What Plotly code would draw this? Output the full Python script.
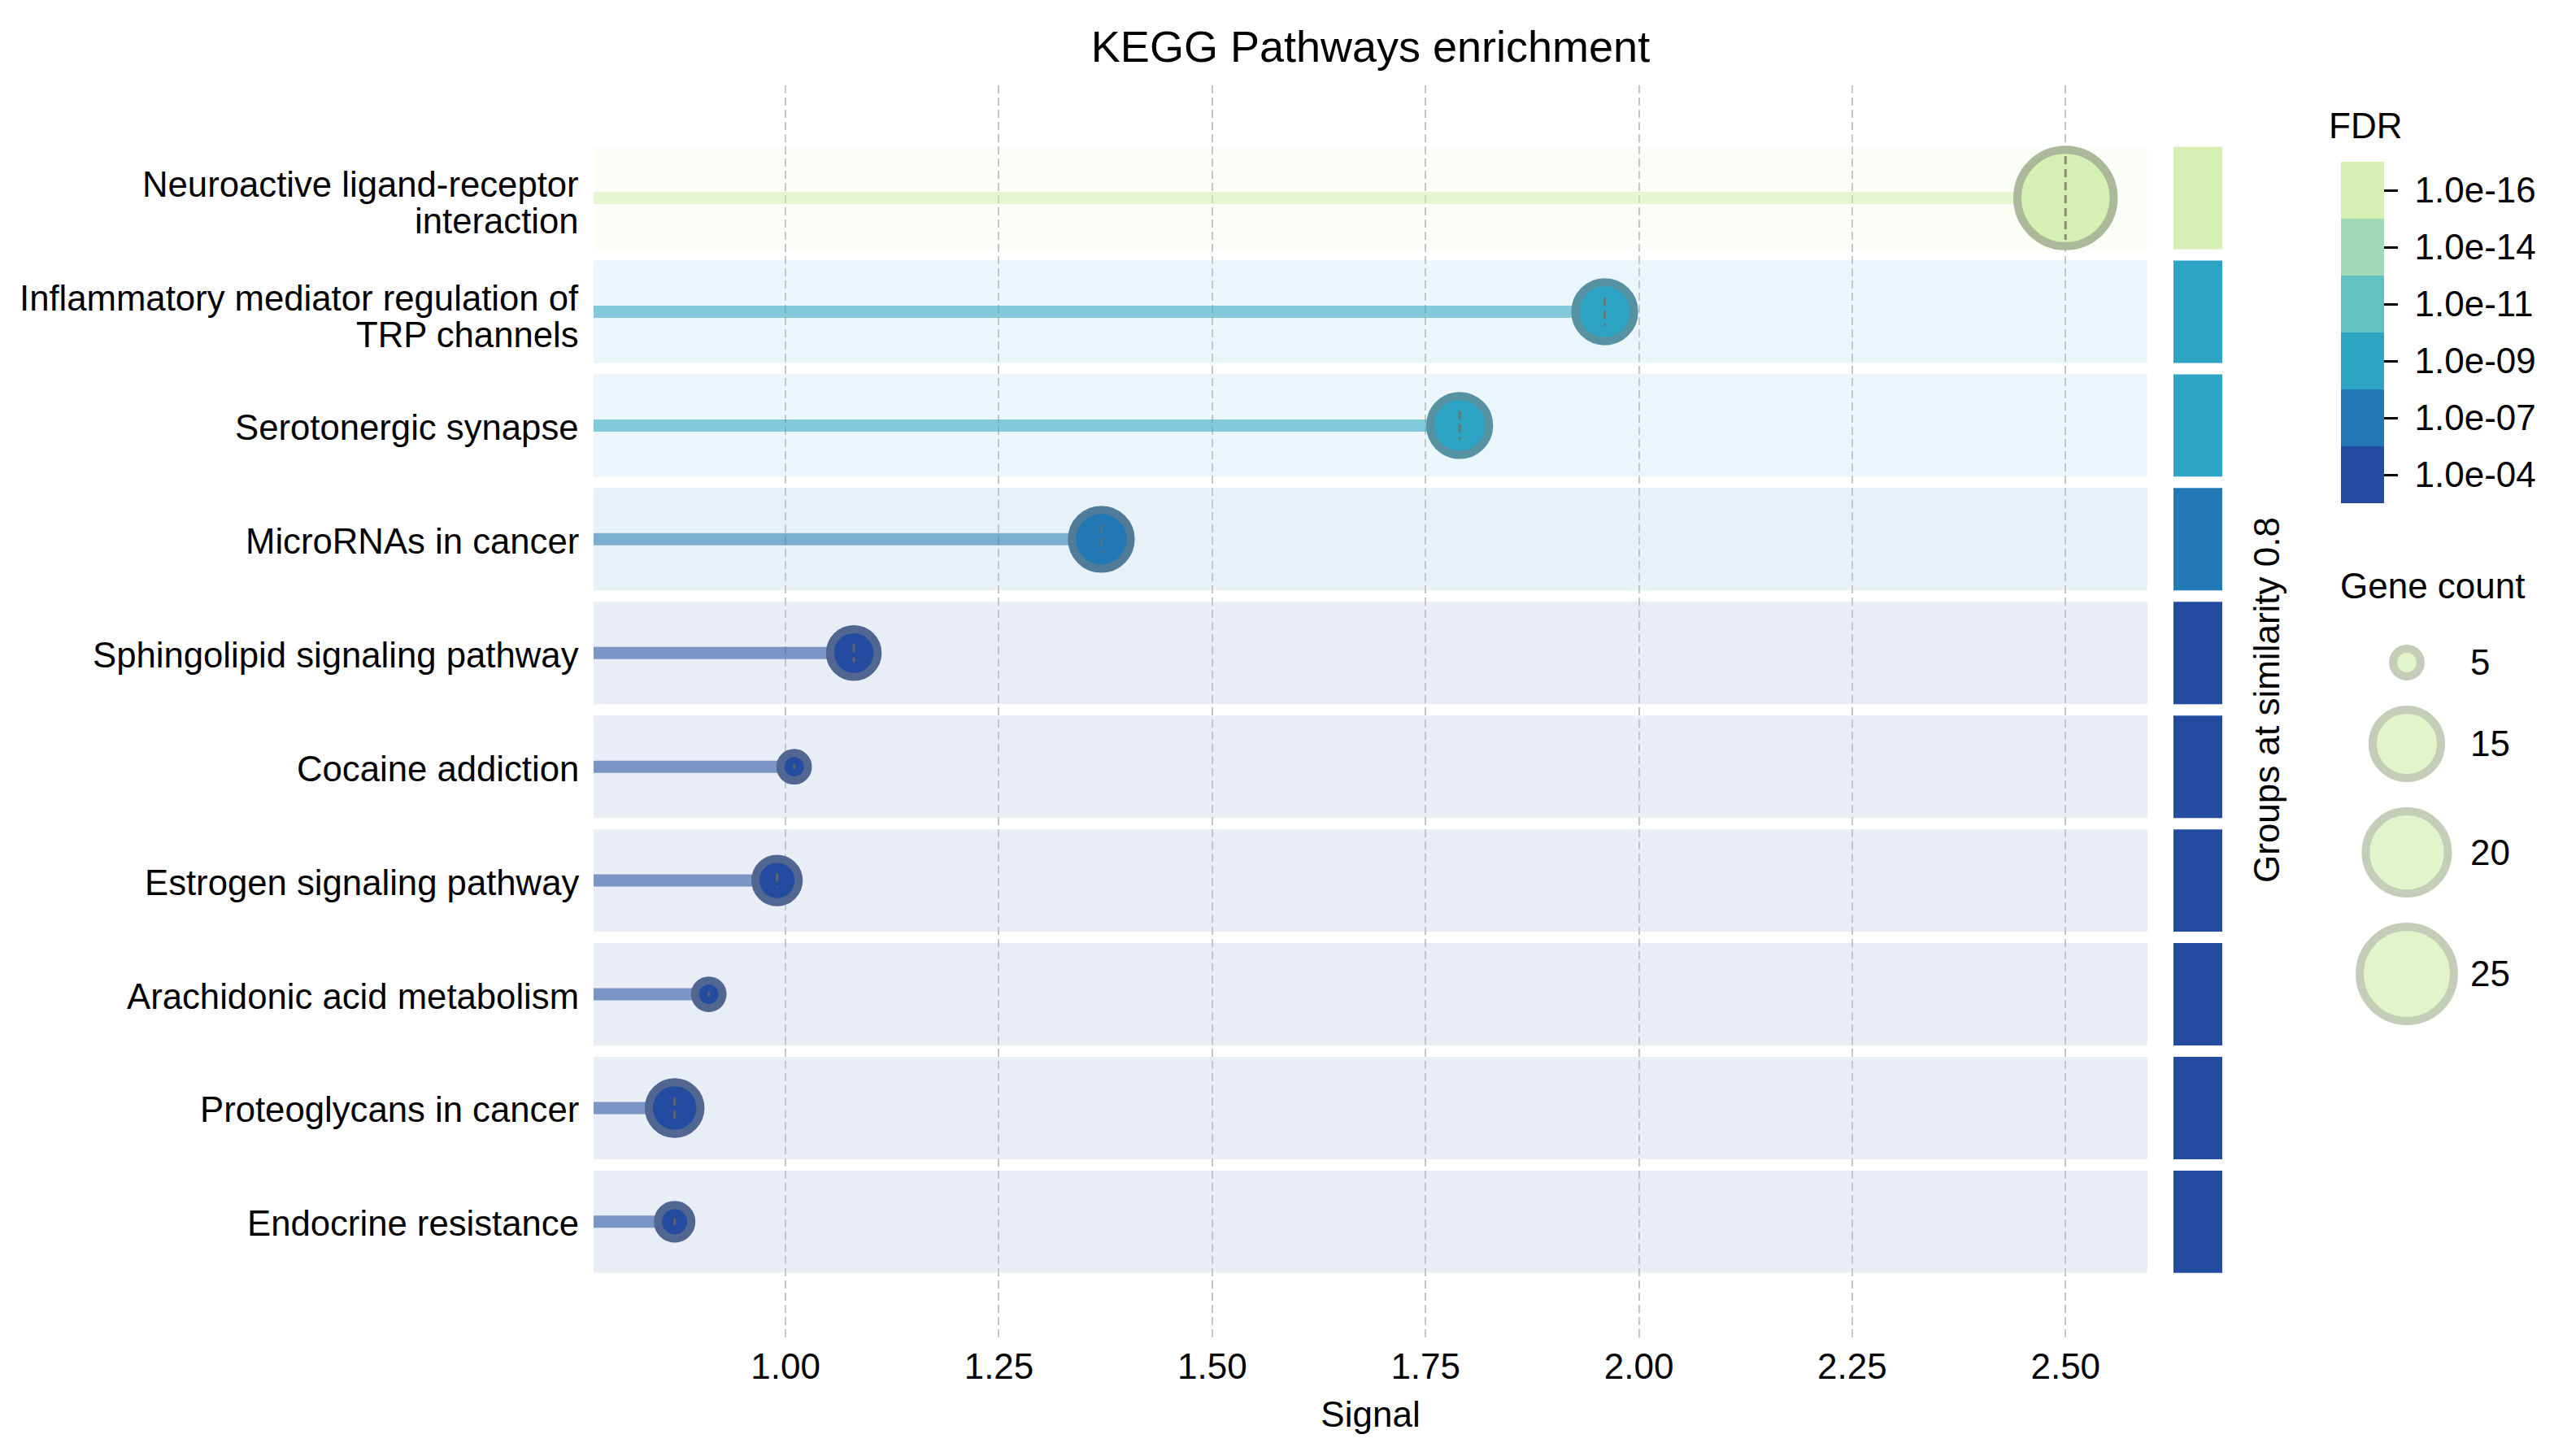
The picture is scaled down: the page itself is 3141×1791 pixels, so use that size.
import math
import plotly.graph_objects as go

# ---------------- data ----------------
pathway_lines = [
    ["Neuroactive ligand-receptor", "interaction"],
    ["Inflammatory mediator regulation of", "TRP channels"],
    ["Serotonergic synapse"],
    ["MicroRNAs in cancer"],
    ["Sphingolipid signaling pathway"],
    ["Cocaine addiction"],
    ["Estrogen signaling pathway"],
    ["Arachidonic acid metabolism"],
    ["Proteoglycans in cancer"],
    ["Endocrine resistance"],
]
signal = [2.50, 1.96, 1.79, 1.37, 1.08, 1.01, 0.99, 0.91, 0.87, 0.87]
gene_count = [26, 12, 12, 12, 9, 5, 8, 5, 10, 6]
fdr_bin = ["1.0e-16", "1.0e-09", "1.0e-09", "1.0e-07", "1.0e-04",
           "1.0e-04", "1.0e-04", "1.0e-04", "1.0e-04", "1.0e-04"]

fdr_levels = ["1.0e-04", "1.0e-07", "1.0e-09", "1.0e-11", "1.0e-14", "1.0e-16"]
fdr_colors = ["#234ca0", "#2178b5", "#2da4c4", "#62c2bf", "#a1dab8", "#d6f0b3"]

x_ticks = [1.00, 1.25, 1.50, 1.75, 2.00, 2.25, 2.50]
legend_counts = [5, 15, 20, 25]

# ---------------- geometry / styling ----------------
W, H = 3141, 1791
L, R, T, B = 730, 3121, 105, 1647
FONT = "Liberation Sans, Arial, Helvetica, sans-serif"
FS = 44
X_RANGE = [0.775, 2.596]
Y_RANGE = [10.03, -0.99]
PX_PER_ROW = (B - T) / (Y_RANGE[0] - Y_RANGE[1])
EDGE_W = 10


def px2x(px):
    return (px - L) / (R - L)


def px2y(py):
    return (B - py) / (B - T)


def hex2rgb(h):
    h = h.lstrip("#")
    return tuple(int(h[i:i + 2], 16) for i in (0, 2, 4))


def rgba(h, a):
    r, g, b = hex2rgb(h)
    return f"rgba({r},{g},{b},{a})"


def edge_of(h):
    r, g, b = hex2rgb(h)
    return f"rgb({(r + 128) // 2},{(g + 128) // 2},{(b + 128) // 2})"


def outer_diam(c):
    return math.sqrt(-1560 + 695 * c)


n = len(signal)
ypos = list(range(n))
fdr_idx = [fdr_levels.index(f) for f in fdr_bin]
face = [fdr_colors[k] for k in fdr_idx]
cvals = [k + 0.5 for k in fdr_idx]
cscale = []
for k, c in enumerate(fdr_colors):
    cscale.append([k / 6, c])
    cscale.append([(k + 1) / 6, c])

fig = go.Figure()

# background bands
shapes = []
for i in ypos:
    shapes.append(dict(type="rect", xref="x domain", x0=0, x1=1, yref="y",
                       y0=i - 0.45, y1=i + 0.45, fillcolor=rgba(face[i], 0.1),
                       line=dict(width=0), layer="below"))

# stems
fig.add_trace(go.Bar(
    y=ypos, x=[s - X_RANGE[0] for s in signal], base=X_RANGE[0],
    orientation="h", width=15 / PX_PER_ROW,
    marker=dict(color=[rgba(c, 0.55) for c in face], line=dict(width=0)),
    xaxis="x", yaxis="y", showlegend=False, hoverinfo="skip"))

# markers
sizes = [outer_diam(c) - EDGE_W for c in gene_count]
fig.add_trace(go.Scatter(
    x=signal, y=ypos, mode="markers", showlegend=False,
    marker=dict(size=sizes, sizemode="diameter", color=cvals, colorscale=cscale,
                cmin=0, cmax=6, opacity=1,
                line=dict(width=EDGE_W, color=[edge_of(c) for c in face]),
                showscale=True,
                colorbar=dict(
                    thickness=53, thicknessmode="pixels", len=420, lenmode="pixels",
                    x=px2x(2879), xanchor="left", y=px2y(199), yanchor="top",
                    xpad=0, ypad=0, outlinewidth=0,
                    tickvals=[k + 0.5 for k in range(6)],
                    ticktext=["\u00a0" + t for t in fdr_levels],
                    ticks="outside", ticklen=17, tickwidth=3, tickcolor="black",
                    tickfont=dict(family=FONT, size=FS, color="black"))),
    xaxis="x", yaxis="y"))

# small dashed centre marks
dx, dy = [], []
for s, i, c in zip(signal, ypos, gene_count):
    inner = outer_diam(c) - 2 * EDGE_W
    half = min(inner * inner / 110, inner * 0.95) / 2 / PX_PER_ROW
    dx += [s, s, None]
    dy += [i - half, i + half, None]
fig.add_trace(go.Scatter(x=dx, y=dy, mode="lines", showlegend=False, hoverinfo="skip",
                         line=dict(color="rgba(120,105,95,0.75)", width=3, dash="10px,6px"),
                         xaxis="x", yaxis="y"))

# group strip
fig.add_trace(go.Bar(
    y=ypos, x=[1] * n, base=0, orientation="h", width=0.9,
    marker=dict(color=cvals, colorscale=cscale, cmin=0, cmax=6, line=dict(width=0)),
    xaxis="x2", yaxis="y", showlegend=False, hoverinfo="skip"))

# gene count legend
leg_d = [outer_diam(c) for c in legend_counts]
leg_y = [815]
for k in range(1, len(leg_d)):
    leg_y.append(leg_y[-1] + leg_d[k - 1] / 2 + 31 + leg_d[k] / 2)
leg_face = fdr_colors[-1]
fig.add_trace(go.Scatter(
    x=[2960] * len(legend_counts), y=leg_y, mode="markers", showlegend=False,
    marker=dict(size=[d - EDGE_W for d in leg_d], color=leg_face,
                line=dict(width=EDGE_W, color=edge_of(leg_face))),
    xaxis="x3", yaxis="y3", hoverinfo="skip", cliponaxis=False))
fig.add_trace(go.Scatter(
    x=[3038] * len(legend_counts), y=[v + 4 for v in leg_y], mode="text",
    showlegend=False,
    text=[str(c) for c in legend_counts], textposition="middle right",
    textfont=dict(family=FONT, size=FS, color="black"),
    xaxis="x3", yaxis="y3", hoverinfo="skip", cliponaxis=False))

label_font = dict(family=FONT, size=FS, color="black")
cat_font = dict(family=FONT, size=43.7, color="black")
annotations = []
# category labels (two-line labels get a tighter line spacing, like the reference)
LINE_GAP = 45
for i, lines in zip(ypos, pathway_lines):
    if len(lines) == 1:
        offs = [2]
    else:
        offs = [-17, -17 + LINE_GAP]
    for txt, o in zip(lines, offs):
        annotations.append(dict(text=txt, x=0, xref="paper", xanchor="right", xshift=-16,
                                y=i + o / PX_PER_ROW, yref="y", yanchor="middle",
                                showarrow=False, font=cat_font))

annotations += [
    dict(text="FDR", x=px2x(2909), y=px2y(154), xref="paper", yref="paper",
         xanchor="center", yanchor="middle", showarrow=False, font=label_font),
    dict(text="Gene count", x=px2x(2992), y=px2y(720), xref="paper", yref="paper",
         xanchor="center", yanchor="middle", showarrow=False, font=label_font),
    dict(text="Groups at similarity 0.8", x=px2x(2787), y=px2y(861), xref="paper",
         yref="paper", xanchor="center", yanchor="middle", textangle=-90,
         showarrow=False, font=label_font),
]

fig.update_layout(
    width=W, height=H, autosize=False,
    margin=dict(l=L, r=W - R, t=T, b=H - B, pad=0),
    paper_bgcolor="white", plot_bgcolor="white",
    barmode="overlay", showlegend=False,
    font=dict(family=FONT, size=FS, color="black"),
    title=dict(text="KEGG Pathways enrichment", x=px2x((L + 2641) / 2), xref="paper",
               xanchor="center", y=1 - 57 / H, yref="container", yanchor="middle",
               font=dict(family=FONT, size=54, color="black")),
    xaxis=dict(domain=[0, px2x(2641)], range=X_RANGE, anchor="y",
               tickvals=x_ticks, ticktext=[f"{t:.2f}" for t in x_ticks],
               showgrid=True, gridcolor="#c6c6c6", gridwidth=2, griddash="10px,5px",
               zeroline=False, showline=False, ticks="", ticklabelstandoff=4,
               tickfont=label_font,
               title=dict(text="Signal", standoff=20, font=label_font)),
    yaxis=dict(range=Y_RANGE, tickvals=ypos, showticklabels=False,
               showgrid=False, zeroline=False, showline=False, ticks="", anchor="x"),
    xaxis2=dict(domain=[px2x(2673), px2x(2733)], range=[0, 1], anchor="y",
                visible=False),
    xaxis3=dict(domain=[px2x(2850), 1], range=[2850, R], anchor="y3", visible=False),
    yaxis3=dict(domain=[0, 1], range=[B, T], anchor="x3", visible=False),
    shapes=shapes,
    annotations=annotations,
)

fig.write_html("out.html", config={"displayModeBar": False},
               post_script="document.body.style.margin='0';"
                           "document.body.style.overflow='hidden';")
